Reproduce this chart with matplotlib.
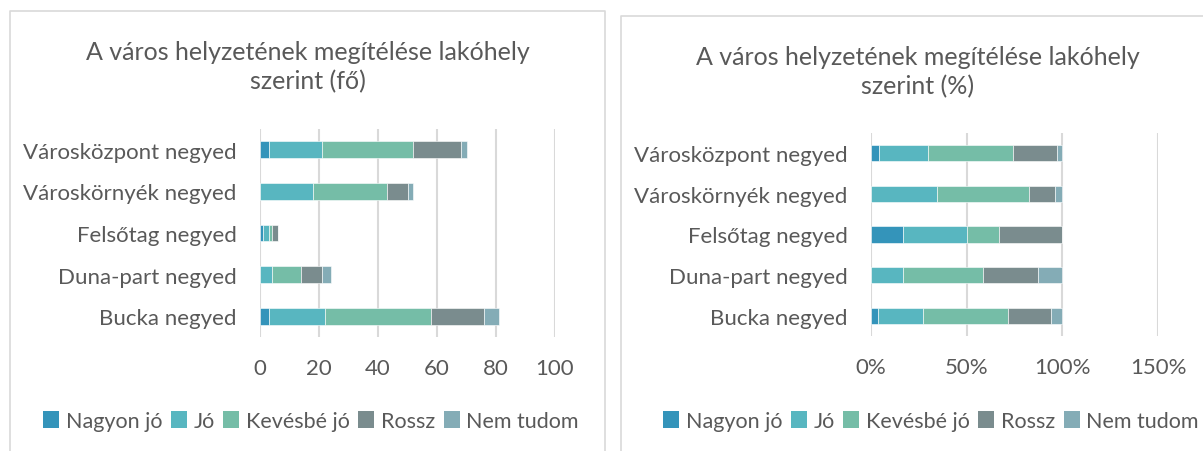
import matplotlib.pyplot as plt
from matplotlib.patches import Patch
from matplotlib.lines import Line2D
from matplotlib.ticker import FuncFormatter
import numpy as np

plt.rcParams['font.family'] = ['Lato', 'DejaVu Sans']

# data (fő)
categories = ['Bucka negyed', 'Duna-part negyed', 'Felsőtag negyed',
              'Városkörnyék negyed', 'Városközpont negyed']
series = ['Nagyon jó', 'Jó', 'Kevésbé jó', 'Rossz', 'Nem tudom']
nagyon_jo = [3, 0, 1, 0, 3]
jo = [19, 4, 2, 18, 18]
kevesbe_jo = [36, 10, 1, 25, 31]
rossz = [18, 7, 2, 7, 16]
nem_tudom = [5, 3, 0, 2, 2]
colors = ['#3494BA', '#58B6C0', '#75BDA7', '#7A8C8E', '#84ACB6']

left_ticks = [0, 20, 40, 60, 80, 100]
right_ticks = [0, 50, 100, 150]

W, H = 1203, 452
txt = '#595959'
grid = '#D9D9D9'

counts = np.array([nagyon_jo, jo, kevesbe_jo, rossz, nem_tudom], dtype=float)
percents = counts / counts.sum(axis=0) * 100


def fx(px):
    return px / W


def fy(py):
    return 1 - py / H


def stacked(ax, values, ticks, fmt):
    y = np.arange(len(categories))
    left = np.zeros(len(categories))
    for vals, name, col in zip(values, series, colors):
        ax.barh(y, vals, left=left, height=0.4, color=col, label=name,
                edgecolor='white', linewidth=0.4, zorder=3)
        left += vals
    ax.set_xlim(ticks[0], ticks[-1])
    ax.set_ylim(-0.5, len(categories) - 0.5)
    ax.set_xticks(ticks)
    ax.xaxis.set_major_formatter(FuncFormatter(fmt))
    ax.set_yticks(y)
    ax.set_yticklabels(categories)
    ax.grid(axis='x', color=grid, linewidth=1.5, zorder=0)
    for s in ax.spines.values():
        s.set_visible(False)
    ax.tick_params(axis='both', length=0, labelsize=16, colors=txt)
    ax.tick_params(axis='x', pad=15)
    ax.tick_params(axis='y', pad=17)


fig = plt.figure(figsize=(W / 100, H / 100), dpi=100)

# chart frames
frame = '#D9D9D9'
for pts in ([(10, 460), (10, 12), (605, 12), (605, 460)],
            [(621, 460), (621, 17), (1210, 17)]):
    xs = [fx(p[0]) for p in pts]
    ys = [fy(p[1]) for p in pts]
    fig.add_artist(Line2D(xs, ys, color=frame, linewidth=1.2,
                          transform=fig.transFigure))

ax1 = fig.add_axes([fx(260), fy(338), fx(555) - fx(260), fy(130) - fy(338)])
stacked(ax1, counts, left_ticks, lambda v, p: '%d' % v)

ax2 = fig.add_axes([fx(871), fy(337), fx(1158) - fx(871), fy(134) - fy(337)])
stacked(ax2, percents, right_ticks, lambda v, p: '%d%%' % v)

fig.text(fx(308), fy(67), 'A város helyzetének megítélése lakóhely\nszerint (fő)',
         ha='center', va='center', fontsize=18, color=txt, linespacing=1.3)
fig.text(fx(918), fy(72), 'A város helyzetének megítélése lakóhely\nszerint (%)',
         ha='center', va='center', fontsize=18, color=txt, linespacing=1.3)

handles = [Patch(facecolor=c, edgecolor='none') for c in colors]
for cx in (311, 931):
    leg = fig.legend(handles, series, loc='center', ncol=5,
                     bbox_to_anchor=(fx(cx), fy(422)), frameon=False,
                     fontsize=15.5, handlelength=0.75, handleheight=0.8,
                     handletextpad=0.3, columnspacing=0.4, borderaxespad=0)
    for t in leg.get_texts():
        t.set_color(txt)

fig.savefig('out.png', dpi=100)
